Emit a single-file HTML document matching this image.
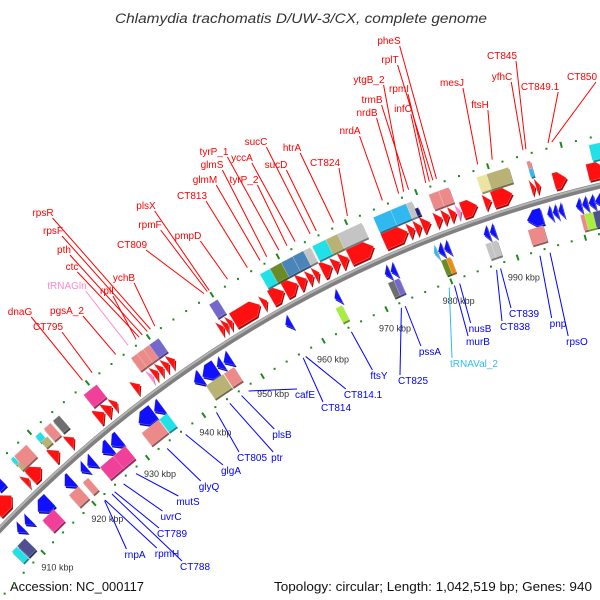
<!DOCTYPE html>
<html><head><meta charset="utf-8"><style>
html,body{margin:0;padding:0;background:#fff;}
svg{display:block;}
text{font-family:"Liberation Sans","DejaVu Sans",sans-serif;}
</style></head><body>
<svg id="map" width="600" height="600" viewBox="0 0 600 600" xmlns="http://www.w3.org/2000/svg">
<rect width="600" height="600" fill="#fff"/>
<text x="115" y="23" font-size="13.5" font-style="italic" fill="#333" textLength="372" lengthAdjust="spacingAndGlyphs">Chlamydia trachomatis D/UW-3/CX, complete genome</text>
<text x="10" y="591" font-size="12.5" fill="#111" textLength="134" lengthAdjust="spacingAndGlyphs">Accession: NC_000117</text>
<text x="274" y="591" font-size="12.5" fill="#111" textLength="318" lengthAdjust="spacingAndGlyphs">Topology: circular; Length: 1,042,519 bp; Genes: 940</text>
<g id="rings"></g><g id="backbone"></g><g id="feats"></g><g id="lbls"></g>
</svg>
<script>
// ---- data (kbp) ----
const featStart=[909.5,915,916,920,922.9,928,929.4,930.7,934.4,937.6,938.5,939.4,940.3,937,948.4,949.1,949.8,950.6,955.1,956.5,958.6,960.7,962.1,963.1,964.3,965.9,967.1,968.4,973.5,977.1,978.1,979.1,981,982.1,983.1,984.1,984.8,988,989.2,994.6,995.3,997.8,1002.5,
911.8,915.8,915.9,916.4,920.2,920.3,921.7,923.3,928.6,936.5,937.5,938.5,939.5,949,956.8,958.3,960,961.7,963.3,964.6,966.6,968.3,973.5,976,978.2,979,981.4,982.8,988.1,989.5,995,995,1003.5,
909.5,911,913.5,918.6,921.6,922.8,925.5,927.1,932,934.7,941.5,942.9,945.3,946.4,956.4,964.1,971.8,972.7,979.2,979.8,980.7,986.5,987.4,992.8,995.7,996.5,997.3,999.8,1000.7,1001.6,1002.5,
907,908.1,913.1,918.2,920.8,924,926.4,931.5,934.6,942.6,945.6,963.6,971.7,972.6,979.7,980.5,986.3,987.1,992.5,1000.1,1000.7,1001.9];
const featEnd=[912.5,915.8,918,921.3,924,929.3,930.6,931.5,935.4,938.4,939.3,940.2,941.2,937.5,949.1,949.8,950.5,954.8,955.9,958.5,960.6,962,963,963.9,965.8,967,968.3,972,977,978,979,980.3,982,983,984,984.7,987,989,992,995.2,995.9,999.6,1005,
913,916.3,916.4,918.6,921.1,921.4,922.9,924.4,930.8,937.5,938.5,939.5,941,950.3,958.3,960,961.7,963.3,964.3,966.6,968.3,971.8,976,978.2,979,979.5,982.8,984.2,989.5,992.5,995.5,995.5,1005,
910.5,912,915.8,920,922.6,924,927,928.7,934.6,936,942.8,945.2,946.3,947.6,957.3,964.9,972.6,973.5,979.7,980.6,981.5,987.3,988.2,995,996.4,997.2,998,1000.6,1001.5,1002.5,1004,
908,909.6,915.3,920,921.8,926.4,928.6,934.5,936,945.5,947.3,964.6,972.6,973.4,980.5,981.1,987.1,988,994.7,1000.7,1001.9,1003];
const featTrack=[].concat(Array(43).fill('fa'),Array(33).fill('fb'),Array(31).fill('ra'),Array(22).fill('rb'));
const featColor=['r','r','r','r','r','r','r','r','r','r','r','r','r','pk','r','r','r','r','r','r','r','r','r','r','r','r','r','r','r','r','r','r','r','r','r','pk','r','r','r','r','r','r','r',
'b','cy','kh','sa','cy','kh','sa','gy','mg','sa','sa','sa','pu','pu','cy','ol','sb','sb','lg','cy','kh','lg','sk','sk','lg','nv','sa','sa','pkh','kh','sa','sk','cy',
'b','b','b','b','b','b','b','b','b','b','b','b','b','b','b','b','b','b','sk','b','b','b','b','b','b','b','b','b','b','b','b',
'cy','sl','mg','sa','sa','mg','mg','sa','cy','kh','sa','yg','gy','pu','ol','or','lg','lg','sa','sa','yg','sl'];
const featSub=Array(129).fill(0);
featSub[44]=1;featSub[45]=2;featSub[47]=1;featSub[48]=2;featSub[68]=2;featSub[73]=1;featSub[74]=2;

const tickKbp=[910,920,930,940,950,960,970,980,990,1000];
const tickLabels=['910 kbp','920 kbp','930 kbp','940 kbp','950 kbp','960 kbp','970 kbp','980 kbp','990 kbp',''];

const redNames=['rpsR','rpsF','pth','ctc','tRNAGln','rplI','ychB','CT809','rpmF','plsX','pmpD','CT813','glmM','glmS','tyrP_1','yccA','tyrP_2','sucC','sucD','htrA','CT824','nrdA','nrdB','trmB','ytgB_2','rpmI','infC','rplT','pheS','mesJ','ftsH','CT845','yfhC','CT849.1','CT850','dnaG','CT795','pgsA_2'];
const redKbp=[940.8,940.3,939.5,939,937.2,938.5,941.5,949.2,949.7,950,952.8,955.8,957.7,958.7,960.5,962.9,961.7,965.1,966,968.5,970.5,975.5,977.8,979.2,978.5,982.1,981.6,982.6,983.1,988.8,990.8,995.4,995,998.4,998.9,929.7,931.3,935.2];
const redX=[43,53,64,72,67,107,124,132,150,146,188,192,205,212,214,242,244,256,276,292,325,350,367,372,369,399,403,390,389,452,480,502,502,540,582,20,48,67];
const redY=[216,234,253,270,289,294,281,248,228,209,239,199,183,168,155,161,183,145,168,151,166,134,116,103,83,92,112,63,44,86,108,59,80,90,80,315,330,314];

const blueNames=['rnpA','rpmH','CT788','CT789','uvrC','mutS','glyQ','glgA','CT805','ptr','plsB','cafE','CT814','CT814.1','ftsY','CT825','pssA','tRNAVal_2','murB','nusB','CT838','CT839','pnp','rpsO'];
const blueKbp=[921.4,921.5,922.8,923.3,925,927.3,933,936.3,941.7,944,946,947.2,956.3,956.7,964.1,972,972.6,979.4,980.2,981,986.6,987.2,993.1,994.6];
const blueX=[135,167,195,172,171,188,209,231,252,277,282,305,336,363,379,413,430,474,478,480,515,524,558,577];
const blueY=[558,557,570,537,520,505,490,474,461,461,438,398,411,398,379,384,355,367,345,332,330,317,327,345];

// ---- geometry ----
const CX=880, CY=1370, R=1217;
const NS='http://www.w3.org/2000/svg';
function ang(k){return (-28.4+(k-960)*0.3453)*Math.PI/180;}
function pt(k,r){const a=ang(k);return [CX+r*Math.sin(a),CY-r*Math.cos(a)];}
function P(a){return a.map(p=>p[0].toFixed(1)+','+p[1].toFixed(1)).join(' ');}
const COL={r:'#ff1010',b:'#1010ff',pk:'#ff88cc',cy:'#22e0e8',kh:'#b8b274',sa:'#ec8a8a',gy:'#6e6e6e',mg:'#f0409a',pu:'#7468cc',ol:'#6b8a28',sb:'#4a84b8',lg:'#c4c4c4',sk:'#30b8f0',nv:'#202080',pkh:'#ece4a0',yg:'#a8ee40',sl:'#505090',or:'#f08c10'};
function dark(h){const n=parseInt(h.slice(1),16);const f=c=>Math.round(c*0.62);return 'rgb('+f(n>>16&255)+','+f(n>>8&255)+','+f(n&255)+')';}
function mk(tag,attrs,parent){const e=document.createElementNS(NS,tag);for(const k in attrs)e.setAttribute(k,attrs[k]);parent.appendChild(e);return e;}

// backbone
const bb=document.getElementById('backbone');
function arcPath(r,k1,k2){const a=pt(k1,r),b=pt(k2,r);return 'M'+a[0]+','+a[1]+' A'+r+','+r+' 0 0 1 '+b[0]+','+b[1];}
const b1=mk('path',{d:arcPath(R,895,1020),fill:'none',stroke:'#808080','stroke-width':6},bb);


const b2=mk('path',{d:arcPath(R+1.5,895,1020),fill:'none',stroke:'#b4b4b4','stroke-width':2},bb);



// rings and ticks
const rg=document.getElementById('rings');
[1266,1170].forEach(r=>{
  for(let k=896;k<=1020;k+=2){
    const major=(k%10===0);
    let el;
    if(major){const a=pt(k,r-3),b=pt(k,r+3);el=mk('line',{x1:a[0],y1:a[1],x2:b[0],y2:b[1],stroke:'#1e8a1e','stroke-width':2},rg);}
    else{const c=pt(k,r);el=mk('rect',{x:c[0]-1,y:c[1]-1,width:2,height:2,fill:'#1e8a1e'},rg);}
    
    
  }
});
tickKbp.forEach((k,i)=>{
  if(!tickLabels[i])return;
  const c=pt(k,1150);
  const t=mk('text',{x:c[0],y:c[1]+4,'font-size':9,fill:'#333','text-anchor':'middle'},rg);
  t.textContent=tickLabels[i];
  
  
});

// features
const TR={fa:[1224,1241],fb:[1243,1259],ra:[1194,1211],rb:[1177,1193]};
const fg=document.getElementById('feats');
featStart.forEach((s,i)=>{
  const e=featEnd[i],tr=featTrack[i]||'fb';let [r1,r2]=TR[tr];
  if(featSub[i]===1)r1=(r1+r2)/2; if(featSub[i]===2)r2=(r1+r2)/2;
  let pts;
  if(tr==='fa'||tr==='ra'){
    const head=Math.min(1.1,e-s),m=(r1+r2)/2;
    if(tr==='fa'){const hb=e-head;pts=[pt(s,r2),pt(hb,r2),pt(e,m),pt(hb,r1),pt(s,r1)];}
    else{const hb=s+head;pts=[pt(e,r2),pt(hb,r2),pt(s,m),pt(hb,r1),pt(e,r1)];}
  } else {pts=[pt(s,r2),pt((s+e)/2,r2),pt(e,r2),pt(e,r1),pt((s+e)/2,r1),pt(s,r1)];}
  const col=COL[featColor[i]]||'#999999';
  const g=mk('g',{},fg);
  
  
  mk('polygon',{points:P(pts),fill:dark(col),transform:'translate(1.2,1.8)'},g);
  mk('polygon',{points:P(pts),fill:col,stroke:'rgba(255,255,255,0.35)','stroke-width':0.6},g);
});

// labels
const lg=document.getElementById('lbls');
function addLabel(name,k,x,y,red){
  let col=red?'#ff0000':'#0000ff';
  if(name==='tRNAGln')col='#ff88cc';
  if(name==='tRNAVal_2')col='#33bbee';
  const t=mk('text',{x:x,y:y,'font-size':10,fill:col,'text-anchor':'middle'},lg);
  t.textContent=name;
  
  
  let w=name.length*5.6;try{w=t.getComputedTextLength()||w;}catch(err){}
  const a=pt(k,red?1271:1165);
  const sx=red?x+w/2-1:x-w/2+2, sy=red?y+2:y-9;
  const l=mk('line',{x1:sx,y1:sy,x2:a[0],y2:a[1],stroke:col,'stroke-width':1},lg);
  
  
}
redNames.forEach((n,i)=>addLabel(n,redKbp[i],redX[i],redY[i],true));
blueNames.forEach((n,i)=>addLabel(n,blueKbp[i],blueX[i],blueY[i],false));
</script>
</body></html>
